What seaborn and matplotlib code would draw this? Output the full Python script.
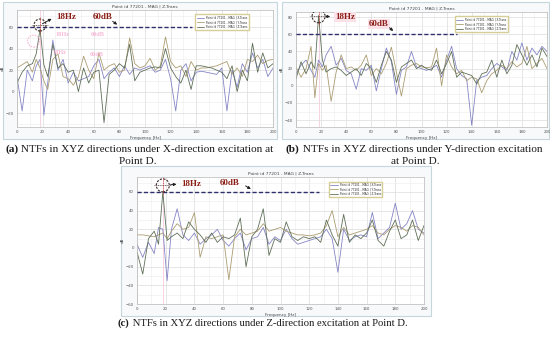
import numpy as np
import pandas as pd
import matplotlib
matplotlib.use("Agg")
import matplotlib.pyplot as plt
import matplotlib.patches as mpatches
import matplotlib.transforms as mtransforms
from matplotlib.text import Annotation
import seaborn as sns

sns.set_style("white")
plt.rcParams["font.family"] = ["DejaVu Sans"]

# ---- data (dB vs frequency) ----
FREQ = [0, 4, 8, 12, 15, 18, 21, 24, 28, 32, 36, 40, 44, 48, 52, 56, 60, 64, 68, 72,
        76, 80, 84, 88, 92, 96, 100, 104, 108, 112, 116, 120, 124, 128, 132, 136,
        140, 144, 148, 152, 156, 160, 164, 168, 172, 176, 180, 184, 188, 192, 196, 200]

SERIES = ["Point id 77201 - MAG | X-Trans",
          "Point id 77201 - MAG | Y-Trans",
          "Point id 77201 - MAG | Z-Trans"]
COLORS = ["#8585c6", "#ab9c72", "#5f6f58"]

# (a) X-direction excitation
A_X = [14, -18, 20, 10, 24, 30, -22, 8, 48, 20, 30, 8, 18, 10, 12, 14, 24, 30, 12, 18,
       22, 14, 24, 16, 22, 20, 22, 24, 18, 20, 30, 12, -18, 20, 26, 10, 18, 19, 18, 17,
       16, 22, -18, 20, 4, 26, 18, 36, 22, 30, 14, 22]
A_Y = [22, 25, 28, 18, 30, 22, 10, 2, 30, 35, 14, 12, 6, 14, 33, 20, 12, 36, 20, 24,
       26, 18, 20, 50, 26, 22, 24, 31, 20, 24, 51, 28, 22, 24, 14, 28, 20, 22, 22, 23,
       24, 26, 28, 16, 22, 14, 30, 28, 34, 26, 29, 30]
A_Z = [8, 18, 24, 26, 35, 58, 25, 14, 44, 22, 26, 18, 20, 0, 22, 8, 18, 20, -29, 16,
       20, 26, 22, 44, 10, 18, 20, 22, 23, 22, 40, 22, 14, 8, 20, 2, 24, 24, 23, 22,
       20, 18, 12, 24, 0, 20, 10, 45, 18, 36, 22, 26]

# (b) Y-direction excitation
B_X = [14, 24, 30, 18, 10, 30, 22, 36, 46, 24, 32, 18, 14, -4, 20, 18, 24, -6, 20, 44,
       28, -10, 18, 22, 40, 22, 20, 18, 20, 24, 10, 30, 46, 20, 12, 8, -46, 6, 10, 12,
       20, 26, 22, 18, 40, 30, 50, 30, 44, 36, 46, 40]
B_Y = [22, 10, 20, 46, -14, 26, 18, 24, -18, 16, 36, 20, 22, 18, 24, 36, 12, 20, 14, 26,
       45, 16, -12, 20, 24, 26, 22, 21, 22, 44, 0, 36, 22, 14, 18, 6, 10, 8, -8, 6,
       14, 18, 24, 20, 28, 22, 26, 46, 20, 26, 32, 20]
B_Z = [8, 28, 14, 28, 20, 82, 30, 16, 20, 22, 18, 12, 16, 20, 12, 26, 20, 4, 24, 40,
       30, 4, 22, 26, 30, 20, 24, 20, 18, 30, 14, 26, 40, 10, 16, 14, 12, 2, 14, 16,
       30, 10, 30, 14, 24, 48, 36, 24, 36, 22, 44, 34]

# (c) Z-direction excitation
C_X = [4, -10, 6, -6, 22, 20, -35, 20, 42, 14, 8, 16, 4, 10, 14, 20, 8, 2, 10, 16,
       -2, 10, 12, 22, 4, 12, 8, 20, 10, 4, 6, 8, 10, 12, 20, 10, -26, 20, 8, 12,
       14, 12, 38, 10, 16, 22, 48, 20, 26, 40, 20, 16]
C_Y = [14, 14, 13, 12, 14, 16, 10, 18, 26, 20, 22, 38, -10, 12, 10, 12, 14, -34, 12, 20,
       14, 16, 18, 26, 18, 20, 22, 18, 16, 14, 14, 13, 14, 16, 24, 40, 12, 22, 14, 16,
       18, 20, 24, 16, 14, 20, 24, 22, 18, 24, 22, 14]
C_Z = [-4, -28, 10, 18, 4, 60, 8, 12, 16, 10, 28, 20, 14, 6, 16, 6, 12, 10, 14, 32,
       -20, 12, 20, 42, -8, 10, 6, 28, 12, 8, 12, 10, 12, 6, 30, 14, 2, 36, 6, 14,
       10, 16, 30, 8, 2, 18, 30, 10, 14, 30, 8, 24]

CAPTIONS = [
    ("(a)", " NTFs in XYZ directions under X-direction excitation at", "Point D."),
    ("(b)", " NTFs in XYZ directions under Y-direction excitation", "at Point D."),
    ("(c)", " NTFs in XYZ directions under Z-direction excitation at Point D.", None),
]

W, H = 550, 338
SERIF = ["Liberation Serif", "DejaVu Serif"]
RED = "#8b1f17"


def px_rect(left, top, right, bottom):
    return [left / W, 1 - bottom / H, (right - left) / W, (bottom - top) / H]


def frame(left, top, right, bottom):
    fig.add_artist(mpatches.Rectangle((left / W, 1 - bottom / H), (right - left) / W,
                                      (bottom - top) / H, transform=fig.transFigure,
                                      facecolor="#f7f9fa", edgecolor="#c6d6dc",
                                      lw=0.8, zorder=-5))


def draw_panel(rect, values, ylim, yticks, leg_anchor):
    ax = fig.add_axes(rect)
    df = pd.DataFrame({"Frequency": FREQ * 3,
                       "dB": values[0] + values[1] + values[2],
                       "Series": [s for s in SERIES for _ in FREQ]})
    sns.lineplot(data=df, x="Frequency", y="dB", hue="Series", hue_order=SERIES,
                 palette=COLORS, linewidth=0.6, ax=ax)
    ax.set_xlim(0, 200)
    ax.set_xticks(np.arange(0, 201, 20))
    ax.set_xticks(np.arange(0, 201, 10), minor=True)
    ax.set_yticks(yticks)
    ax.set_yticks(np.arange(yticks[0] - 10, ylim[1], 10), minor=True)
    ax.set_ylim(*ylim)
    ax.grid(True, which="major", color="#dcdcdc", lw=0.5)
    ax.grid(True, which="minor", color="#ececec", lw=0.4)
    ax.tick_params(labelsize=2.8, length=1.2, width=0.4, pad=1, colors="#555555")
    ax.set_xlabel("Frequency [Hz]", fontsize=3, labelpad=1, color="#444444")
    ax.set_ylabel("dB", fontsize=3, labelpad=0.5, color="#444444")
    ax.set_title("Point id 77201 - MAG | Z-Trans", fontsize=3.2, pad=1.5, color="#444444")
    for sp in ax.spines.values():
        sp.set_color("#b8b8b8")
        sp.set_linewidth(0.5)
    ax.axvline(18, color="#f6b3d2", lw=0.6, alpha=0.7, zorder=0)
    handles, labels = ax.get_legend_handles_labels()
    ax.legend(handles, labels, loc="upper right", bbox_to_anchor=leg_anchor,
              fontsize=2.0, frameon=True, edgecolor="#d6cd98", fancybox=False,
              handlelength=2.6, borderpad=0.45, labelspacing=0.2, framealpha=1)
    return ax


def marks(ax, circ, r, t18, tdb, arr_from, arr_to, line_end, arrow18, boxed=False):
    ax.plot([0, line_end], [60, 60], ls=(0, (3, 1.6)), color="#2d2f6b", lw=1.0, zorder=5)
    off = mtransforms.IdentityTransform() + mtransforms.ScaledTranslation(circ[0], circ[1], ax.transData)
    ax.add_patch(mpatches.Circle((0, 0), r, transform=off, fill=False, ls=(0, (2, 1.2)),
                                 lw=0.8, ec="#3b2b28", zorder=6))
    ax.plot([-r - 2, r + 2], [0, 0], transform=off, color="#3b2b28", lw=0.5,
            ls=(0, (1.5, 1)), zorder=6)
    ax.plot([0, 0], [-r - 2, r + 2], transform=off, color="#c0392b", lw=0.5,
            ls=(0, (1.5, 1)), zorder=6)
    ax.annotate("", xy=arrow18[1], xytext=arrow18[0],
                arrowprops=dict(arrowstyle="-|>", color="#222222", lw=0.7, mutation_scale=4),
                zorder=7)
    bbox = dict(boxstyle="square,pad=0.1", fc="#fde1e9", ec="none") if boxed else None
    ax.text(t18[0], t18[1], "18Hz", fontsize=6.5, fontweight="bold", family=SERIF,
            color=RED, va="center", ha="left", bbox=bbox, zorder=7)
    ax.text(tdb[0], tdb[1], "60dB", fontsize=6.5, fontweight="bold", family=SERIF,
            color=RED, va="center", ha="left", bbox=bbox, zorder=7)
    ax.annotate("", xy=arr_to, xytext=arr_from,
                arrowprops=dict(arrowstyle="-|>", color="#222222", lw=0.7, mutation_scale=4),
                zorder=7)


fig = plt.figure(figsize=(W / 100, H / 100), dpi=100)
fig.patch.set_facecolor("white")

frame(3, 2, 277, 139)
frame(282, 2, 549, 139)
frame(121, 166, 431, 316)

ax_a = draw_panel(px_rect(17, 10, 273, 127), [A_X, A_Y, A_Z], (-33, 76),
                  [-20, 0, 20, 40, 60], (0.91, 0.975))
ax_b = draw_panel(px_rect(296, 12, 547, 127), [B_X, B_Y, B_Z], (-48, 86),
                  [-40, -20, 0, 20, 40, 60, 80], (0.85, 0.975))
ax_c = draw_panel(px_rect(137, 177, 424, 304), [C_X, C_Y, C_Z], (-60, 76),
                  [-60, -40, -20, 0, 20, 40, 60], (0.86, 0.975))

# faded earlier annotations in panel (a)
for (x, y, s) in [(30, 53, "18Hz"), (58, 53, "60dB"), (28, 36, "18Hz"), (57, 35, "60dB")]:
    ax_a.text(x, y, s, fontsize=4.5, fontweight="bold", family=SERIF, color="#f7a6cc",
              alpha=0.8, va="center", zorder=4)
off_p = mtransforms.IdentityTransform() + mtransforms.ScaledTranslation(13, 47, ax_a.transData)
ax_a.add_patch(mpatches.Circle((0, 0), 6, transform=off_p, fill=False, ls=(0, (2, 1.2)),
                               lw=0.6, ec="#f7a6cc", zorder=4))

marks(ax_a, (18, 62), 6, (31, 69.5), (59, 69.5), (73, 67), (80, 60.8), 137,
      ((18, 62), (29, 69)))
marks(ax_b, (18, 81), 6.5, (31, 80), (58, 72), (73, 70), (79, 61.5), 128,
      ((21.5, 81), (29.5, 80.5)), boxed=True)
marks(ax_c, (18, 67), 6.5, (31, 68.5), (58, 70), (74, 68), (81, 61.5), 127,
      ((21.5, 67.5), (29.5, 68.5)))


# captions
def caption(x, y, tag, rest, fs):
    t = fig.text(x / W, 1 - y / H, tag, fontsize=fs, fontweight="bold", family=SERIF,
                 va="baseline", ha="left", color="#1a1a1a")
    fig.add_artist(Annotation(rest, xy=(1, 0), xycoords=t, va="bottom", ha="left",
                              fontsize=fs, family=SERIF, color="#1a1a1a"))


caption(5, 152, CAPTIONS[0][0], CAPTIONS[0][1], 8.1)
fig.text(138 / W, 1 - 164 / H, CAPTIONS[0][2], fontsize=8.1, family=SERIF,
         ha="center", va="baseline", color="#1a1a1a")
caption(286, 152, CAPTIONS[1][0], CAPTIONS[1][1], 8.1)
fig.text(415 / W, 1 - 164 / H, CAPTIONS[1][2], fontsize=8.1, family=SERIF,
         ha="center", va="baseline", color="#1a1a1a")
caption(118, 326, CAPTIONS[2][0], CAPTIONS[2][1], 7.7)

fig.savefig("out.png", dpi=100)
